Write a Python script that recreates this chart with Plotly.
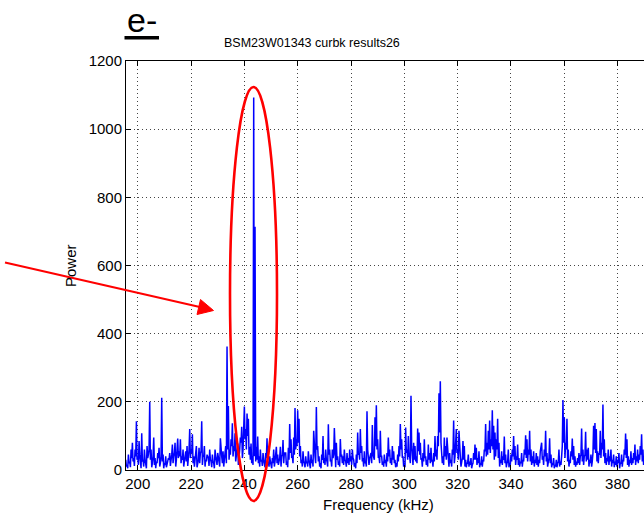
import numpy as np
import plotly.graph_objects as go

# Power spectrum read at 0.25 kHz: each block has the samples on the 0.5 kHz grid
# (power_*) and the samples that fall half-way between them (mid_*).
half_step = 0.25

start_a = 195.5
power_a = [30, 15, 45, 25, 60, 80, 35, 60, 143, 40,
           85, 20, 108, 30, 60, 15, 70, 45, 200, 60,
           20, 95, 35, 25, 50, 65, 20, 212, 45, 20,
           40, 15, 35, 50, 25, 75, 40, 80, 30, 92,
           55, 90, 40, 60, 25, 55, 70, 30, 120, 60,
           105, 40, 30, 70, 20, 65, 50, 143, 40, 70,
           30, 45]
mid_a = [10, 5, 20, 8, 35, 25, 12, 40, 30, 15,
         45, 5, 25, 10, 30, 5, 35, 60, 30, 8,
         40, 15, 5, 20, 35, 10, 40, 25, 5, 15,
         8, 20, 30, 12, 45, 20, 50, 10, 55, 35,
         40, 20, 30, 10, 35, 25, 12, 60, 35, 50,
         20, 10, 45, 8, 30, 20, 55, 15, 40, 10,
         25]

start_b = 226.5
power_b = [35, 60, 25, 45, 20, 60, 30, 50, 25, 93,
           40, 55, 30, 70, 362, 188, 60, 90, 137, 70,
           108, 40, 78, 30, 95, 127, 60, 186, 120, 166,
           150, 68, 78, 40, 1093, 714, 68, 98, 40, 60,
           30, 50, 20, 50, 93, 25, 40, 15, 35, 60,
           25, 68, 45, 30, 68, 40, 88, 50]
mid_b = [12, 30, 8, 25, 5, 40, 15, 30, 10, 45,
         20, 10, 35, 20, 60, 30, 45, 70, 40, 55,
         25, 50, 15, 60, 80, 35, 110, 90, 60, 100,
         45, 30, 20, 15, 40, 25, 30, 20, 10, 25,
         12, 30, 8, 35, 15, 10, 25, 5, 20, 10,
         40, 20, 15, 35, 10, 45, 20]

start_c = 255.5
power_c = [50, 25, 65, 135, 90, 40, 95, 182, 90, 175,
           150, 70, 30, 55, 20, 40, 25, 55, 15, 45,
           30, 115, 40, 185, 70, 40, 20, 45, 100, 35,
           60, 25, 134, 60, 30, 60, 45, 20, 80, 40,
           25, 91, 45, 40, 60, 25, 50, 35, 60, 40,
           60, 30, 20, 45, 110, 50, 120, 70, 35, 55,
           25, 172, 45, 35]
mid_c = [15, 8, 30, 50, 35, 20, 45, 60, 70, 80,
         40, 20, 10, 25, 8, 20, 10, 30, 5, 20,
         10, 40, 20, 60, 25, 10, 5, 30, 20, 15,
         30, 10, 45, 25, 10, 35, 123, 8, 30, 15,
         10, 40, 20, 15, 30, 10, 20, 15, 25, 15,
         35, 10, 5, 20, 45, 30, 50, 25, 10, 20,
         10, 60, 15]

start_d = 287.5
power_d = [50, 132, 40, 155, 190, 90, 40, 115, 40, 25,
           45, 30, 50, 95, 60, 35, 70, 55, 30, 20,
           45, 70, 135, 90, 40, 20, 125, 60, 100, 40,
           218, 35, 80, 70, 40, 122, 110, 80, 35, 50,
           90, 40, 30, 75, 50, 65, 30, 50, 100, 60,
           100, 225, 260, 60, 40, 95, 70, 95, 35, 50,
           30, 60, 145, 40]
mid_d = [20, 45, 30, 70, 60, 35, 20, 40, 15, 10,
         20, 10, 25, 40, 20, 15, 30, 20, 8, 10,
         25, 40, 60, 35, 10, 8, 50, 30, 40, 20,
         70, 15, 30, 25, 20, 55, 45, 30, 10, 25,
         35, 15, 10, 30, 20, 25, 10, 25, 40, 30,
         70, 110, 80, 20, 15, 40, 30, 35, 10, 20,
         10, 45, 20]

start_e = 319.5
power_e = [120, 60, 115, 40, 25, 85, 70, 30, 20, 45,
           25, 35, 15, 50, 75, 65, 35, 55, 20, 40,
           30, 60, 135, 80, 115, 145, 90, 175, 130, 110,
           90, 150, 80, 30, 55, 40, 98, 45, 20, 60,
           20, 45, 60, 100, 70, 40, 75, 35, 25, 50,
           30, 60, 102, 90, 60, 115, 60, 40, 55, 30,
           50, 40, 30, 55]
mid_e = [50, 30, 45, 10, 35, 30, 10, 8, 20, 10,
         15, 5, 20, 30, 30, 15, 20, 8, 15, 10,
         25, 55, 40, 45, 60, 50, 70, 60, 30, 40,
         60, 35, 10, 20, 15, 30, 20, 8, 25, 8,
         15, 25, 40, 30, 15, 30, 15, 10, 20, 10,
         25, 45, 35, 25, 45, 25, 15, 20, 10, 20,
         15, 10, 20]

start_f = 351.5
power_f = [80, 40, 60, 115, 50, 30, 93, 45, 20, 35,
           15, 30, 20, 60, 25, 40, 205, 155, 80, 150,
           60, 30, 55, 92, 70, 40, 25, 35, 50, 40,
           122, 60, 40, 112, 60, 65, 30, 45, 25, 130,
           138, 120, 55, 50, 115, 80, 192, 90, 50, 35,
           60, 40, 60, 30, 45, 25, 40, 30, 50, 20,
           45, 30, 60, 107, 90, 40, 30, 55, 35, 50,
           75, 40, 60, 45, 70, 105, 60, 40]
mid_f = [30, 15, 40, 25, 10, 35, 20, 8, 15, 5,
         10, 8, 25, 10, 15, 70, 80, 35, 60, 25,
         10, 20, 40, 30, 15, 10, 15, 20, 15, 45,
         25, 15, 45, 25, 30, 10, 20, 10, 50, 60,
         50, 25, 20, 45, 35, 60, 40, 20, 15, 25,
         15, 25, 10, 20, 8, 15, 10, 20, 5, 20,
         10, 25, 45, 35, 15, 10, 20, 15, 20, 30,
         15, 25, 20, 30, 45, 25, 15]

x_ticks = [200, 220, 240, 260, 280, 300, 320, 340, 360, 380]
y_ticks = [0, 200, 400, 600, 800, 1000, 1200]

title_text = "BSM23W01343 curbk results26"
x_label = "Frequency (kHz)"
y_label = "Power"
tag_text = "e-"

blocks = [(start_a, power_a, mid_a), (start_b, power_b, mid_b),
          (start_c, power_c, mid_c), (start_d, power_d, mid_d),
          (start_e, power_e, mid_e), (start_f, power_f, mid_f)]

freq, power = [], []
for start, grid_vals, mid_vals in blocks:
    seq = []
    for i, v in enumerate(grid_vals):
        seq.append(v)
        if i < len(grid_vals) - 1 and i < len(mid_vals):
            seq.append(mid_vals[i])
    freq.extend(start + half_step * np.arange(len(seq)))
    power.extend(seq)

# Figure geometry (pixels)
W, H = 644, 517
ML, MR, MT, MB = 126, 0, 61, 47
PW, PH = W - ML - MR, H - MT - MB


def px(x):
    return (x - ML) / PW


def py(y):
    return (H - MB - y) / PH


FONT = "Liberation Sans, Arial, Helvetica, sans-serif"

fig = go.Figure()
fig.add_trace(go.Scatter(x=freq, y=power, mode="lines",
                         line=dict(color="#0000ff", width=1.5),
                         hoverinfo="skip", showlegend=False))

grid = dict(showgrid=True, gridcolor="#444444", gridwidth=1, griddash="1px,3px")
fig.update_xaxes(range=[195.6, 389.9], tickvals=x_ticks, ticks="inside", ticklen=5,
                 tickcolor="black", showline=True, linecolor="black", linewidth=1,
                 mirror="ticks", zeroline=False,
                 tickfont=dict(family=FONT, size=15, color="black"), **grid)
fig.update_yaxes(range=[0, 1200], tickvals=y_ticks, ticks="inside", ticklen=5,
                 tickcolor="black", showline=True, linecolor="black", linewidth=1,
                 mirror=False, zeroline=False,
                 tickfont=dict(family=FONT, size=15, color="black"), **grid)

annotations = [
    dict(text=title_text, x=px(311.5), y=py(43), xref="paper", yref="paper",
         showarrow=False, font=dict(family=FONT, size=12.5, color="black"),
         xanchor="center", yanchor="middle"),
    dict(text=x_label, x=px(378.5), y=py(504), xref="paper", yref="paper",
         showarrow=False, font=dict(family=FONT, size=15, color="black"),
         xanchor="center", yanchor="middle"),
    dict(text=y_label, x=px(70), y=py(266), xref="paper", yref="paper",
         showarrow=False, textangle=-90, font=dict(family=FONT, size=15, color="black"),
         xanchor="center", yanchor="middle"),
    dict(text=tag_text, x=px(141.5), y=py(20), xref="paper", yref="paper",
         showarrow=False, font=dict(family=FONT, size=34, color="black"),
         xanchor="center", yanchor="middle"),
]

shapes = [
    # underline of the tag
    dict(type="rect", xref="paper", yref="paper", x0=px(124.5), x1=px(159),
         y0=py(39.5), y1=py(36), fillcolor="black", line=dict(width=0)),
    # ellipse round the main peaks
    dict(type="circle", xref="paper", yref="paper", x0=px(230), x1=px(277),
         y0=py(501), y1=py(87), line=dict(color="#ff0000", width=2.6)),
    # arrow shaft
    dict(type="line", xref="paper", yref="paper", x0=px(5), y0=py(262.5),
         x1=px(202), y1=py(307.5), line=dict(color="#ff0000", width=2)),
    # arrow head
    dict(type="path", xref="paper", yref="paper",
         path=f"M {px(213.5)} {py(310.5)} L {px(200.5)} {py(299.5)} L {px(197)} {py(314.5)} Z",
         fillcolor="#ff0000", line=dict(color="#ff0000", width=1)),
]

fig.update_layout(width=W, height=H, margin=dict(l=ML, r=MR, t=MT, b=MB),
                  paper_bgcolor="white", plot_bgcolor="white",
                  annotations=annotations, shapes=shapes, showlegend=False)

fig.write_html("out.html")
